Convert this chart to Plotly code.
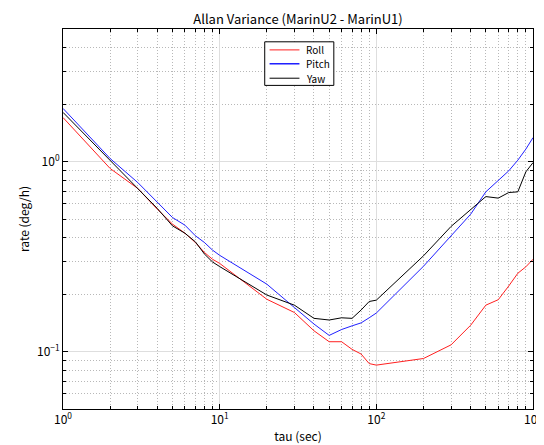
import plotly.graph_objects as go
import math

tau = [1, 2, 3, 4, 5, 6, 7, 8, 9, 10,
       20, 30, 40, 50, 60, 70, 80, 90, 100,
       200, 300, 400, 500, 600, 700, 800, 900, 1000]

roll = [1.71, 0.922, 0.724, 0.563, 0.470, 0.421, 0.376, 0.333, 0.307, 0.292,
        0.189, 0.161, 0.129, 0.113, 0.113, 0.103, 0.0973, 0.0867, 0.0851,
        0.0922, 0.1088, 0.138, 0.176, 0.188, 0.222, 0.259, 0.280, 0.307]

pitch = [1.91, 1.04, 0.778, 0.616, 0.509, 0.464, 0.408, 0.376, 0.343, 0.322,
         0.227, 0.171, 0.140, 0.122, 0.131, 0.137, 0.142, 0.151, 0.160,
         0.282, 0.405, 0.53, 0.695, 0.794, 0.896, 1.02, 1.166, 1.34]

yaw = [1.82, 1.02, 0.724, 0.568, 0.460, 0.421, 0.379, 0.327, 0.297, 0.281,
       0.199, 0.176, 0.150, 0.147, 0.151, 0.150, 0.166, 0.184, 0.187,
       0.32, 0.457, 0.559, 0.656, 0.644, 0.689, 0.695, 0.885, 0.99]

series = [("Roll", roll, "#ff2020"), ("Pitch", pitch, "#2020ff"), ("Yaw", yaw, "#000000")]

x_ticks = [1, 10, 100, 1000]
x_labels = ["10<sup>0</sup>", "10<sup>1</sup>", "10<sup>2</sup>", "10<sup>3</sup>"]
x_minor = [m * d for d in (1, 10, 100) for m in range(2, 10)]
y_ticks = [0.1, 1]
y_labels = ["10<sup>\u22121</sup>", "10<sup>0</sup>"]
y_minor = [0.06, 0.07, 0.08, 0.09] + [m / 10 for m in range(2, 10)] + [2, 3, 4, 5]

font = "Noto Sans CJK JP, DejaVu Sans, sans-serif"

fig = go.Figure()
for name, vals, col in series:
    fig.add_trace(go.Scatter(x=tau, y=vals, mode="lines", name=name,
                             line=dict(color=col, width=1), showlegend=False))

def axis_style(minor_vals):
    return dict(
        type="log",
        showline=True, linecolor="black", linewidth=1, mirror="ticks",
        ticks="inside", ticklen=5, tickcolor="black",
        showgrid=True, gridcolor="#dedede", gridwidth=1,
        zeroline=False,
        tickfont=dict(size=12, color="black", family=font),
        minor=dict(tickmode="array", tickvals=minor_vals,
                   ticks="inside", ticklen=3, tickcolor="black",
                   showgrid=True, gridcolor="#b8b8b8", griddash="1px,2px", gridwidth=1),
    )

fig.update_xaxes(**axis_style(x_minor), range=[0, 3], tickmode="array",
                 tickvals=x_ticks, ticktext=x_labels,
                 title=dict(text="tau (sec)", font=dict(size=12, family=font, color="black"),
                            standoff=6))
fig.update_yaxes(**axis_style(y_minor), range=[math.log10(0.05), math.log10(5)],
                 tickmode="array", tickvals=y_ticks, ticktext=y_labels,
                 title=dict(text="rate (deg/h)", font=dict(size=12, family=font, color="black"),
                            standoff=4))

# custom compact legend (box, sample lines, labels)
box = dict(x0=0.4292, x1=0.5762, y0=0.8516, y1=0.9663)
fig.add_shape(type="rect", xref="paper", yref="paper", **box,
              line=dict(color="black", width=1), fillcolor="white", layer="above")
rows = [0.9450, 0.9085, 0.8705]
for (name, _, col), ry in zip(series, rows):
    fig.add_shape(type="line", xref="paper", yref="paper", x0=0.4395, x1=0.5031,
                  y0=ry, y1=ry, line=dict(color=col, width=1.5 if name == "Pitch" else 1),
                  layer="above")
    fig.add_annotation(xref="paper", yref="paper", x=0.5140, y=ry, text=name,
                       showarrow=False, xanchor="left", yanchor="middle", borderpad=0,
                       font=dict(size=10, family=font, color="black"))

fig.update_layout(
    width=544, height=445,
    margin=dict(l=55, r=10, t=21, b=44),
    paper_bgcolor="white", plot_bgcolor="white",
    title=dict(text="Allan Variance (MarinU2 - MarinU1)", x=0.5, xanchor="center",
               xref="paper", y=0.975, yanchor="middle",
               font=dict(size=13, family=font, color="black")),
    showlegend=False,
)

fig.write_html("out.html")
